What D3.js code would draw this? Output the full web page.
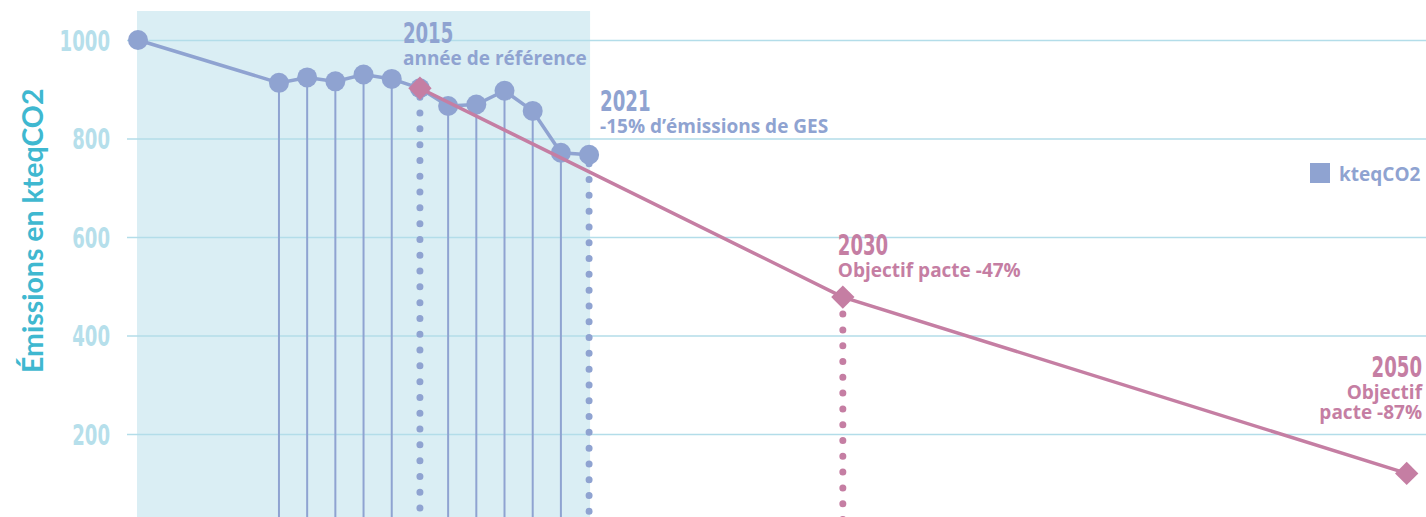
<!DOCTYPE html>
<html>
<head>
<meta charset="utf-8">
<script src="https://cdn.jsdelivr.net/npm/d3@7"></script>
<style>
  body { margin: 0; background: #fff; }
  svg { display: block; }
  .num { font-family: "Liberation Sans Narrow", "DejaVu Sans Condensed", sans-serif; font-weight: bold; }
  .lbl { font-family: "Open Sans", Lato, sans-serif; font-weight: bold; }
</style>
</head>
<body>
<svg id="chart" width="1426" height="517"></svg>
<script>
// measured emissions (kteqCO2)
var years = [2005, 2010, 2011, 2012, 2013, 2014, 2015, 2016, 2017, 2018, 2019, 2020, 2021]
var emissions = [1000, 913, 924, 916, 930, 921, 902, 866, 869, 897, 856, 771, 767]

// pacte targets
var targetYears = [2015, 2030, 2050]
var targetValues = [902, 478, 120]

var yTicks = [200, 400, 600, 800, 1000]
var dottedBlue = [2015, 2021]
var noStem = [2005]

var blue = "#8fa3d1", pink = "#c57ea3"
var W = 1426, H = 517
var digitW = 12.6   // condensed numerals

var svg = d3.select("#chart")

var xScale = d3.scaleLinear().domain([2005, 2050]).range([138, 1406.7])
var yScale = d3.scaleLinear().domain([0, 1000]).range([532.5, 40])

// shaded "measured" period
svg.append("rect")
   .attr("x", xScale(2005) - 1)
   .attr("y", 11)
   .attr("width", xScale(2021) - xScale(2005) + 2)
   .attr("height", H - 11)
   .attr("fill", "#daeef4")

// grid lines
var grid = svg.append("g")
   .attr("transform", "translate(127,0)")
   .call(d3.axisLeft(yScale).tickValues(yTicks).tickSize(-(W - 127)).tickFormat(""))
grid.select(".domain").remove()
grid.selectAll("line").attr("stroke", "#b3dde9").attr("stroke-width", 1.6)

// y tick labels
var yAxis = svg.append("g")
   .attr("transform", "translate(110,0)")
   .call(d3.axisLeft(yScale).tickValues(yTicks).tickSize(0).tickPadding(0).tickFormat(d3.format("d")))
yAxis.select(".domain").remove()
yAxis.selectAll("text")
   .attr("class", "num")
   .attr("fill", "#b6dfeb")
   .style("font-size", "29px")
   .attr("dy", "0.36em")
   .attr("textLength", function(d){ return String(d).length * digitW })
   .attr("lengthAdjust", "spacingAndGlyphs")

// axis title
svg.append("text")
   .attr("class", "lbl")
   .attr("transform", "translate(43,373) rotate(-90)")
   .attr("fill", "#3fb8d0")
   .style("font-family", "Lato, 'Open Sans', sans-serif")
   .style("font-size", "28.5px")
   .text("Émissions en kteqCO2")

// stems
var stems = years.filter(function(d){ return noStem.indexOf(d) < 0 })
svg.selectAll(".stem")
   .data(stems)
   .enter().append("line")
   .attr("class", "stem")
   .attr("x1", function(d){ return xScale(d) })
   .attr("x2", function(d){ return xScale(d) })
   .attr("y1", function(d){
       var v = emissions[years.indexOf(d)]
       return dottedBlue.indexOf(d) >= 0 ? yScale(v) + 9 : yScale(v)
   })
   .attr("y2", H + 5)
   .attr("stroke", blue)
   .attr("stroke-width", function(d){ return dottedBlue.indexOf(d) >= 0 ? 7 : 2 })
   .attr("stroke-linecap", function(d){ return dottedBlue.indexOf(d) >= 0 ? "round" : "butt" })
   .attr("stroke-dasharray", function(d){ return dottedBlue.indexOf(d) >= 0 ? "0,15.8" : null })

// 2030 dotted stem
svg.append("line")
   .attr("x1", xScale(2030)).attr("x2", xScale(2030))
   .attr("y1", yScale(targetValues[1]) + 17).attr("y2", H + 5)
   .attr("stroke", pink)
   .attr("stroke-width", 7)
   .attr("stroke-linecap", "round")
   .attr("stroke-dasharray", "0,15.8")

// measured line + dots
var line = d3.line()
   .x(function(d, i){ return xScale(years[i]) })
   .y(function(d){ return yScale(d) })

svg.append("path")
   .datum(emissions)
   .attr("d", line)
   .attr("fill", "none")
   .attr("stroke", blue)
   .attr("stroke-width", 3.5)

svg.selectAll(".dot")
   .data(emissions)
   .enter().append("circle")
   .attr("class", "dot")
   .attr("cx", function(d, i){ return xScale(years[i]) })
   .attr("cy", function(d){ return yScale(d) })
   .attr("r", 10)
   .attr("fill", blue)

// target line + diamonds
var tLine = d3.line()
   .x(function(d, i){ return xScale(targetYears[i]) })
   .y(function(d){ return yScale(d) })

svg.append("path")
   .datum(targetValues)
   .attr("d", tLine)
   .attr("fill", "none")
   .attr("stroke", pink)
   .attr("stroke-width", 3.5)

svg.selectAll(".diam")
   .data(targetValues)
   .enter().append("path")
   .attr("class", "diam")
   .attr("d", d3.symbol().type(d3.symbolSquare).size(272))
   .attr("transform", function(d, i){
       return "translate(" + xScale(targetYears[i]) + "," + yScale(d) + ") rotate(45)"
   })
   .attr("fill", pink)

// annotations
function note(x, y, anchor, color, title, lines){
   var g = svg.append("g").attr("fill", color)
   var tw = title.length * digitW
   // title placed with start anchor so its compressed width stays inside
   g.append("text").attr("class", "num")
      .attr("x", anchor == "end" ? x - tw : x).attr("y", y)
      .style("font-size", "29px")
      .attr("textLength", tw)
      .attr("lengthAdjust", "spacingAndGlyphs")
      .text(title)
   lines.forEach(function(t, k){
      g.append("text").attr("class", "lbl").attr("text-anchor", anchor)
         .attr("x", x).attr("y", y + 22 + k * 20)
         .style("font-size", "19px").text(t)
   })
}
note(xScale(2015) - 17, yScale(902) - 45, "start", blue, "2015", ["année de référence"])
note(xScale(2021) + 11, yScale(767) - 44, "start", blue, "2021", ["-15% d’émissions de GES"])
note(xScale(2030) - 5, yScale(478) - 42, "start", pink, "2030", ["Objectif pacte -47%"])
note(W - 4, yScale(120) - 96, "end", pink, "2050", ["Objectif ", "pacte -87%"])

// legend
svg.append("rect").attr("x", 1310).attr("y", 163).attr("width", 20).attr("height", 20).attr("fill", blue)
svg.append("text").attr("x", 1339).attr("y", 181)
   .style("font-family", "'Open Sans', sans-serif").style("font-weight", "bold").style("font-size", "19px")
   .attr("fill", blue)
   .text("kteqCO2")
</script>
</body>
</html>
